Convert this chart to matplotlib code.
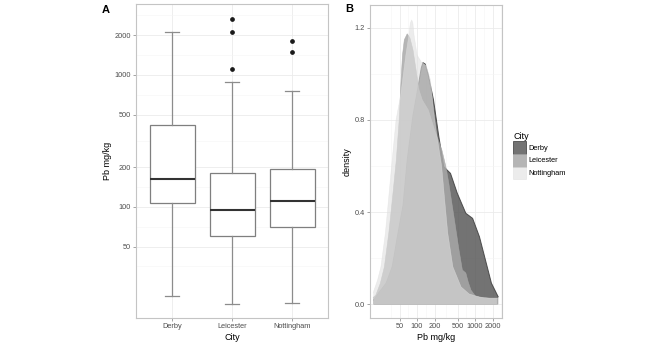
import matplotlib.pyplot as plt
from matplotlib.patches import Patch
from matplotlib.ticker import FixedLocator, FixedFormatter, NullLocator, NullFormatter

plt.rcParams['font.family'] = ['Liberation Sans', 'DejaVu Sans']

cities = ["Derby", "Leicester", "Nottingham"]

# box plot summaries, Pb mg/kg
q1 = [107, 60, 70.5]
medians = [163, 95, 110]
q3 = [418, 182, 195]
whisk_lo = [21, 18.3, 18.8]
whisk_hi = [2120, 885, 760]
outliers = [[], [1104, 2120, 2655], [1486, 1820]]

# density curves on log10 Pb axis
derby_pb = [17.8, 22.2, 29.2, 37.2, 46.8, 57.3, 67.5, 85.0, 104, 118, 126, 138, 156, 192,
            235, 288, 377, 493, 693, 907, 1191, 1563, 1915, 2504]
derby_dens = [0.019, 0.053, 0.092, 0.163, 0.309, 0.431, 0.626, 0.821, 0.943, 1.025, 1.048, 1.042,
              0.995, 0.886, 0.734, 0.597, 0.568, 0.482, 0.395, 0.373, 0.293, 0.178, 0.092, 0.033]
leic_pb = [17.5, 19.4, 23.2, 27.3, 32.5, 36.6, 43.8, 49.1, 52.2, 56.0, 60.2, 67.5, 75.3, 85.0,
           96.0, 108, 123, 156, 200, 268, 312, 352, 432, 528, 604, 693, 762, 850, 1012, 1459, 2375]
leic_dens = [0.03, 0.040, 0.091, 0.163, 0.309, 0.431, 0.626, 0.799, 0.943, 1.081, 1.147, 1.173,
             1.155, 1.103, 1.016, 0.929, 0.886, 0.843, 0.756, 0.669, 0.600, 0.526, 0.380, 0.236,
             0.149, 0.136, 0.097, 0.062, 0.036, 0.027, 0.027]
nott_pb = [17.5, 18.1, 20.8, 23.8, 28.4, 32.1, 37.2, 43.4, 52.2, 57.8, 64.0, 72.3, 76.5, 80.7,
           84.5, 88.5, 100, 118, 144, 170, 192, 216, 265, 299, 338, 414, 573, 793, 1191, 1787, 2474]
nott_dens = [0.05, 0.062, 0.105, 0.163, 0.309, 0.452, 0.626, 0.80, 0.908, 0.995, 1.081, 1.168,
             1.22, 1.233, 1.22, 1.168, 1.081, 1.051, 1.034, 0.973, 0.843, 0.743, 0.600, 0.452,
             0.309, 0.163, 0.076, 0.045, 0.032, 0.027, 0.027]

pb_ticks = [50, 100, 200, 500, 1000, 2000]
pb_minor = [35.4, 70.7, 141, 316, 707, 1414, 2828]
dens_ticks = [0.0, 0.4, 0.8, 1.2]
dens_minor = [0.2, 0.6, 1.0]

fills = ["#5a5a5a", "#a8a8a8", "#e0e0e0"]
alphas = [0.85, 0.85, 0.6]
edges = ["#3a3a3a", "#a8a8a8", "#e0e0e0"]

frame_col = "#c4c4c4"
grid_col = "#ebebeb"
minor_col = "#f5f5f5"
tick_col = "#4d4d4d"


def style_axes(ax):
    for s in ax.spines.values():
        s.set_color(frame_col)
        s.set_linewidth(0.8)
    ax.tick_params(which='major', length=2.2, width=0.5, color="#808080",
                   labelsize=5.3, labelcolor=tick_col, pad=1.5)
    ax.tick_params(which='minor', length=0)
    ax.xaxis.set_minor_formatter(NullFormatter())
    ax.yaxis.set_minor_formatter(NullFormatter())
    ax.grid(True, which='major', color=grid_col, linewidth=0.6)
    ax.grid(True, which='minor', color=minor_col, linewidth=0.4)
    ax.set_axisbelow(True)


fig = plt.figure(figsize=(6.66, 3.45), dpi=100)

# A: box plots
axA = fig.add_axes([136 / 666, 27 / 345, 192 / 666, 314 / 345])
stats = []
for i, c in enumerate(cities):
    stats.append(dict(label=c, q1=q1[i], med=medians[i], q3=q3[i],
                      whislo=whisk_lo[i], whishi=whisk_hi[i], fliers=outliers[i]))
axA.bxp(stats, positions=[1, 2, 3], widths=0.75, capwidths=0.22, patch_artist=True,
        boxprops=dict(facecolor="white", edgecolor="#7f7f7f", linewidth=0.9),
        whiskerprops=dict(color="#8c8c8c", linewidth=0.9),
        capprops=dict(color="#8c8c8c", linewidth=0.9),
        medianprops=dict(color="#333333", linewidth=1.5),
        flierprops=dict(marker='o', markersize=2.4, markerfacecolor="#1a1a1a",
                        markeredgecolor="#1a1a1a"))
axA.set_yscale('log')
axA.set_xlim(0.4, 3.6)
axA.set_ylim(14.4, 3450)
axA.yaxis.set_major_locator(FixedLocator(pb_ticks))
axA.yaxis.set_major_formatter(FixedFormatter([str(t) for t in pb_ticks]))
axA.yaxis.set_minor_locator(FixedLocator(pb_minor))
axA.xaxis.set_minor_locator(NullLocator())
style_axes(axA)
axA.set_xlabel("City", fontsize=6.5, labelpad=2)
axA.set_ylabel("Pb mg/kg", fontsize=6.5, labelpad=2)

# B: density curves
axB = fig.add_axes([370 / 666, 27 / 345, 131.7 / 666, 313 / 345])
series = [(derby_pb, derby_dens), (leic_pb, leic_dens), (nott_pb, nott_dens)]
for i, (x, y) in enumerate(series):
    axB.fill_between(x, 0, y, facecolor=fills[i], alpha=alphas[i], linewidth=0, zorder=2 + i)
    axB.plot(x, y, color=edges[i], linewidth=0.7 if i == 0 else 0.4, alpha=alphas[i], zorder=2 + i)
axB.set_xscale('log')
axB.set_xlim(15.4, 2880)
axB.set_ylim(-0.059, 1.298)
axB.xaxis.set_major_locator(FixedLocator(pb_ticks))
axB.xaxis.set_major_formatter(FixedFormatter([str(t) for t in pb_ticks]))
axB.xaxis.set_minor_locator(FixedLocator(pb_minor))
axB.yaxis.set_major_locator(FixedLocator(dens_ticks))
axB.yaxis.set_major_formatter(FixedFormatter(["%.1f" % t for t in dens_ticks]))
axB.yaxis.set_minor_locator(FixedLocator(dens_minor))
style_axes(axB)
axB.set_xlabel("Pb mg/kg", fontsize=6.5, labelpad=2)
axB.set_ylabel("density", fontsize=6.5, labelpad=2)

handles = [Patch(facecolor=fills[i], alpha=alphas[i], edgecolor=edges[i], linewidth=0.6)
           for i in range(3)]
fig.legend(handles, cities, title="City", loc='upper left', bbox_to_anchor=(513 / 666, 1 - 132 / 345),
           frameon=False, fontsize=5.3, title_fontsize=6.5, handlelength=1.8, handleheight=2.3,
           labelspacing=0.0, handletextpad=0.25, borderpad=0, borderaxespad=0, alignment='left')

fig.text(105.5 / 666, 1 - 10 / 345, "A", fontsize=8, fontweight='bold', ha='center', va='center')
fig.text(349 / 666, 1 - 9 / 345, "B", fontsize=8, fontweight='bold', ha='center', va='center')

fig.savefig("out.png", dpi=100)
